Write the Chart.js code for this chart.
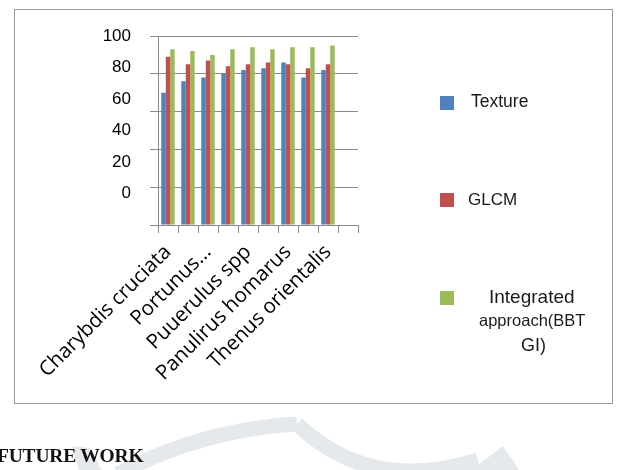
<!DOCTYPE html>
<html>
<head>
<meta charset="utf-8">
<script src="https://cdn.jsdelivr.net/npm/chart.js@4.4.1/dist/chart.umd.min.js"></script>
<style>
  body { margin: 0; background: #fff; }
  #page { position: relative; width: 625px; height: 470px; overflow: hidden; background: #fff; }
  #mark { position: absolute; left: 0; top: 0; }
  #frame { position: absolute; left: 14px; top: 9px; width: 597px; height: 393px; border: 1.5px solid #9a9a9a; }
  #chart { position: absolute; left: 0; top: 0; }
  .sw { position: absolute; width: 14px; height: 14px; }
  .lg { position: absolute; font-family: "Liberation Sans", Arial, sans-serif; color: #1a1a1a; white-space: nowrap; line-height: 1; }
  #heading { position: absolute; left: -3px; top: 445px; font-family: "Liberation Serif", "Times New Roman", serif;
             font-weight: bold; font-size: 19.5px; color: #111; letter-spacing: -0.2px; }
</style>
</head>
<body>
<div id="page">
  <svg id="mark" width="625" height="470">
    <g fill="none" stroke="#e6e9ec" stroke-width="15">
      <path d="M 118 474 Q 200 430 297 424"/>
      <path d="M 297 424 Q 370 494 478 460"/>
    </g>
    <g fill="#e6e9ec">
      <polygon points="72,446 90,448 104,474 80,474"/>
      <polygon points="466,474 503,446 522,474"/>
    </g>
  </svg>
  <div id="frame"></div>
  <canvas id="chart" width="625" height="470"></canvas>

  <div class="sw" style="left:440px; top:96px; background:#4F81BD"></div>
  <div class="lg" style="left:471px; top:93px; font-size:17.5px">Texture</div>

  <div class="sw" style="left:440px; top:193px; background:#C0504D"></div>
  <div class="lg" style="left:468px; top:191px; font-size:17px">GLCM</div>

  <div class="sw" style="left:440px; top:291px; background:#9BBB59"></div>
  <div class="lg" style="left:489px; top:287px; font-size:19px">Integrated</div>
  <div class="lg" style="left:479px; top:312px; font-size:16.5px">approach(BBT</div>
  <div class="lg" style="left:521px; top:336px; font-size:18px">GI)</div>

  <div id="heading">FUTURE WORK</div>
</div>
<script>
const categories = ['Charybdis cruciata', '', 'Portunus...', '', 'Puuerulus spp', '', 'Panulirus homarus', '', 'Thenus orientalis', '']
const texture = [70, 76, 78, 80, 82, 83, 86, 78, 82, null]
const glcm = [89, 85, 87, 84, 85, 86, 85, 83, 85, null]
const integrated = [93, 92, 90, 93, 94, 93, 94, 94, 95, null]
const yTickLabels = ['0', '20', '40', '60', '80', '100']

const line = '#8a8a8a'

const chart = new Chart(document.getElementById('chart'), {
    type: 'bar',
    data: {
        labels: categories,
        datasets: [
            { label: 'Texture', data: texture, backgroundColor: '#4F81BD' },
            { label: 'GLCM', data: glcm, backgroundColor: '#C0504D' },
            { label: 'Integrated approach(BBTGI)', data: integrated, backgroundColor: '#9BBB59' },
        ]
    },
    options: {
        responsive: false,
        devicePixelRatio: 1,
        animation: false,
        categoryPercentage: 0.67,
        barPercentage: 1.0,
        layout: { padding: { left: 0, right: 267, top: 36, bottom: 60 } },
        plugins: { legend: { display: false }, tooltip: { enabled: false } },
        scales: {
            x: {
                grid: { display: true, drawOnChartArea: false, drawTicks: true, tickLength: 8, color: line },
                border: { display: true, color: line },
                ticks: {
                    autoSkip: false,
                    minRotation: 45,
                    maxRotation: 45,
                    padding: 7,
                    color: '#000',
                    font: { family: '"Open Sans", sans-serif', size: 20.5 }
                },
                afterFit: s => { s.height = 185 }
            },
            y: {
                min: 0,
                max: 100,
                ticks: { stepSize: 20, display: false },
                grid: { color: line, tickLength: 8 },
                border: { display: true, color: line },
                afterFit: s => { s.width = 8 }
            },
            // the value labels sit off the gridlines in the original, so they get their own axis
            y2: {
                position: 'left',
                min: 0,
                max: 100,
                grid: { display: false, drawTicks: false },
                border: { display: false },
                afterBuildTicks: s => {
                    s.ticks = [0].concat(yTickLabels.map((_, i) => (i + 1) * 100 / yTickLabels.length)).map(v => ({ value: v }))
                },
                ticks: {
                    padding: 19,
                    color: '#000',
                    font: { family: '"Liberation Sans", Arial, sans-serif', size: 17 },
                    callback: (v, i) => i === 0 ? '' : yTickLabels[i - 1]
                },
                afterFit: s => { s.width = 150 }
            }
        }
    }
})
</script>
</body>
</html>
